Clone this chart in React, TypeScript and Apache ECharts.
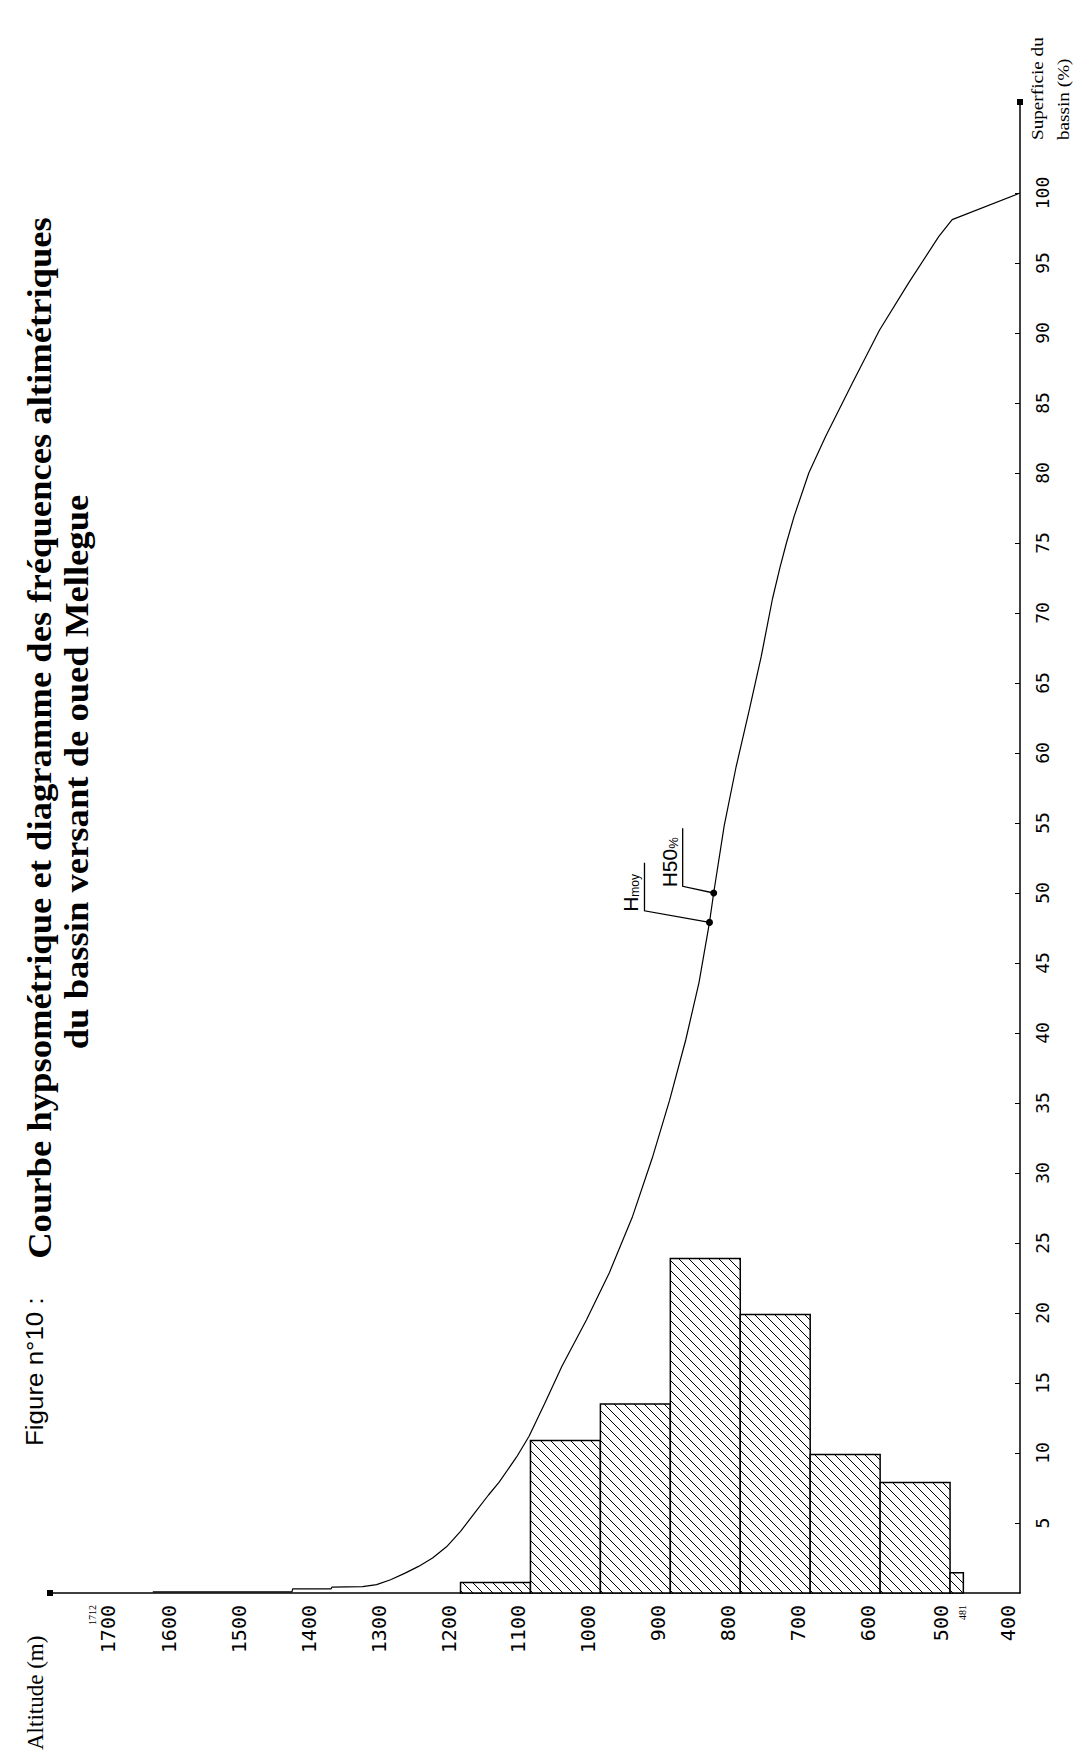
import React, { useEffect, useRef } from "react";
import * as echarts from "echarts";

// ---- Data ----
const ALT_TICKS = [1700, 1600, 1500, 1400, 1300, 1200, 1100, 1000, 900, 800, 700, 600, 500, 400];
const ALT_EXTREMES = [1712, 481];
const PCT_TICKS = [5, 10, 15, 20, 25, 30, 35, 40, 45, 50, 55, 60, 65, 70, 75, 80, 85, 90, 95, 100];

const BIN_HIGH = [1200, 1100, 1000, 900, 800, 700, 600, 500];
const BIN_LOW = [1100, 1000, 900, 800, 700, 600, 500, 481];
const BIN_FREQ = [0.75, 10.9, 13.5, 23.9, 19.9, 9.9, 7.9, 1.45];

const CURVE_ALT = [1640, 1441, 1440, 1385, 1384, 1340, 1320, 1300, 1280, 1260, 1240, 1220, 1200, 1180, 1160, 1145, 1120, 1102, 1080, 1055, 1020, 987, 954, 925, 901, 878, 859, 844, 838, 823, 806, 787, 770, 754, 743, 734, 723, 702, 678, 640, 601, 559, 516, 497, 400];
const CURVE_PCT = [0.08, 0.08, 0.3, 0.3, 0.42, 0.45, 0.6, 0.95, 1.4, 1.9, 2.5, 3.3, 4.4, 5.7, 7.0, 7.9, 9.7, 11.2, 13.5, 16.2, 19.5, 22.9, 26.9, 31.2, 35.2, 39.5, 43.6, 47.9, 50.0, 54.8, 59.0, 63.1, 66.9, 71.0, 73.3, 75.0, 76.9, 80.0, 82.6, 86.4, 90.2, 93.6, 96.9, 98.1, 100];

const MARK_NAMES = ["Hmoy", "H50%"];
const MARK_ALT = [844, 838];
const MARK_PCT = [47.9, 50.0];

const TITLE_PREFIX = "Figure n°10 :";
const TITLE_LINE1 = "Courbe hypsométrique et diagramme des fréquences altimétriques";
const TITLE_LINE2 = "du bassin versant de oued Mellegue";
const X_NAME = "Altitude (m)";
const Y_NAME_1 = "Superficie du";
const Y_NAME_2 = "bassin (%)";

export default function App() {
  const ref = useRef<HTMLDivElement>(null);

  useEffect(() => {
    if (!ref.current) return;
    const chart = echarts.init(ref.current, null, { renderer: "svg" });

    const barData = BIN_LOW.map((lo, i) => [lo, BIN_HIGH[i], BIN_FREQ[i]]);
    const curveData = CURVE_ALT.map((a, i) => [a, CURVE_PCT[i]]);
    const markData = MARK_ALT.map((a, i) => [a, MARK_PCT[i], MARK_NAMES[i]]);

    const HATCH = 10;
    const renderBar = (params: any, api: any) => {
      const lo = api.value(0);
      const hi = api.value(1);
      const f = api.value(2);
      const pA = api.coord([hi, 0]);
      const pB = api.coord([lo, f]);
      const x0 = Math.min(pA[0], pB[0]);
      const x1 = Math.max(pA[0], pB[0]);
      const y0 = Math.min(pA[1], pB[1]);
      const y1 = Math.max(pA[1], pB[1]);
      const children: any[] = [
        { type: "rect", shape: { x: x0, y: y0, width: x1 - x0, height: y1 - y0 }, style: { fill: "#fff", stroke: "none" } },
      ];
      const cMin = y0 - x1;
      const cMax = y1 - x0;
      for (let c = Math.ceil(cMin / HATCH) * HATCH; c <= cMax; c += HATCH) {
        const xa = Math.max(x0, y0 - c);
        const xb = Math.min(x1, y1 - c);
        if (xb > xa + 0.5) {
          children.push({
            type: "line",
            shape: { x1: xa, y1: xa + c, x2: xb, y2: xb + c },
            style: { stroke: "#000", lineWidth: 1 },
          });
        }
      }
      children.push({
        type: "rect",
        shape: { x: x0, y: y0, width: x1 - x0, height: y1 - y0 },
        style: { fill: "none", stroke: "#000", lineWidth: 1.5 },
      });
      return { type: "group", children };
    };

    const LEADERS = [
      { dx: -65, dy: -11.6, up: 48 },
      { dx: -31, dy: -6.7, up: 58 },
    ];
    const renderMark = (params: any, api: any) => {
      const i = params.dataIndex;
      const p = api.coord([api.value(0), api.value(1)]);
      const L = LEADERS[i];
      const cx = p[0] + L.dx;
      const cy = p[1] + L.dy;
      const name = MARK_NAMES[i];
      const text = name === "Hmoy" ? "{h|H}{s|moy}" : "{h|H50}{p|%}";
      return {
        type: "group",
        children: [
          {
            type: "polyline",
            shape: { points: [[p[0], p[1]], [cx, cy], [cx, cy - L.up]] },
            style: { stroke: "#000", lineWidth: 1.3, fill: "none" },
          },
          { type: "circle", shape: { cx: p[0], cy: p[1], r: 3.5 }, style: { fill: "#000" } },
          {
            type: "text",
            x: cx - 3,
            y: cy + 1,
            rotation: Math.PI / 2,
            style: {
              text,
              textAlign: "left",
              textVerticalAlign: "bottom",
              fill: "#000",
              rich: {
                h: { fontSize: 21, fontFamily: "Liberation Sans", lineHeight: 20, verticalAlign: "bottom" },
                s: { fontSize: 12, fontFamily: "Liberation Sans", lineHeight: 12, verticalAlign: "bottom" },
                p: { fontSize: 13, fontFamily: "Liberation Sans", lineHeight: 20, verticalAlign: "bottom" },
              },
            },
          },
        ],
      };
    };

    const MONO = "DejaVu Sans Mono";
    const xLabel = (v: number) => {
      if (v === 1700) return `{c|${v}}`;
      if (v === 500) return `{d|${v}}`;
      return String(v);
    };
    const xMinor = (v: number) => (v === 1712 ? `{s1|${v}}` : `{s2|${v}}`);

    const baseX = {
      type: "value",
      inverse: true,
      min: 400,
      max: 1787,
      position: "bottom",
      gridIndex: 0,
      axisTick: { show: false },
      splitLine: { show: false },
    };

    const option: any = {
      animation: false,
      backgroundColor: "#fff",
      grid: { left: 50, right: 70, top: 102, bottom: 162, outerBoundsMode: "none", containLabel: false },
      xAxis: [
        {
          ...baseX,
          axisLine: {
            show: true,
            onZero: false,
            lineStyle: { color: "#000", width: 1.5 },
            symbol: ["rect", "none"],
            symbolSize: [6, 6],
          },
          axisLabel: {
            customValues: ALT_TICKS,
            hideOverlap: false,
            rotate: 90,
            align: "right",
            verticalAlign: "bottom",
            lineHeight: 24,
            margin: 12,
            fontFamily: MONO,
            fontSize: 20,
            color: "#000",
            formatter: xLabel,
            rich: {
              c: { fontSize: 20, lineHeight: 6, fontFamily: MONO, color: "#000" },
              d: { fontSize: 20, lineHeight: 18, fontFamily: MONO, color: "#000" },
            },
          },
        },
        {
          ...baseX,
          axisLine: { show: false, onZero: false },
          axisLabel: {
            customValues: ALT_EXTREMES,
            hideOverlap: false,
            rotate: 90,
            align: "right",
            verticalAlign: "bottom",
            margin: 12,
            fontFamily: "Liberation Serif",
            fontSize: 10,
            color: "#000",
            formatter: xMinor,
            rich: {
              s1: { fontSize: 10, lineHeight: 20, fontFamily: "Liberation Serif", color: "#000" },
              s2: { fontSize: 10, lineHeight: 2, fontFamily: "Liberation Serif", color: "#000" },
            },
          },
        },
      ],
      yAxis: {
        type: "value",
        position: "right",
        min: 0,
        max: 106.5,
        axisLine: {
          show: true,
          onZero: false,
          lineStyle: { color: "#000", width: 1.5 },
          symbol: ["none", "rect"],
          symbolSize: [6, 6],
        },
        axisTick: { show: true, inside: true, length: 5, customValues: PCT_TICKS, lineStyle: { color: "#000" } },
        splitLine: { show: false },
        axisLabel: {
          customValues: PCT_TICKS,
          hideOverlap: false,
          rotate: 90,
          align: "center",
          verticalAlign: "top",
          margin: 13,
          fontFamily: MONO,
          fontSize: 18,
          color: "#000",
        },
      },
      series: [
        {
          type: "custom",
          name: "Fréquences altimétriques",
          renderItem: renderBar,
          data: barData,
          xAxisIndex: 0,
          encode: { x: [0, 1], y: 2 },
          z: 2,
          silent: true,
        },
        {
          type: "line",
          name: "Courbe hypsométrique",
          data: curveData,
          xAxisIndex: 0,
          showSymbol: false,
          symbol: "none",
          lineStyle: { color: "#000", width: 1.2 },
          z: 3,
          silent: true,
        },
        {
          type: "custom",
          name: "Repères",
          renderItem: renderMark,
          data: markData,
          xAxisIndex: 0,
          encode: { x: 0, y: 1 },
          z: 4,
          silent: true,
        },
      ],
      graphic: [
        {
          type: "text",
          x: 34,
          y: 1446,
          rotation: Math.PI / 2,
          scaleX: 1.08,
          style: { text: TITLE_PREFIX, font: '24px "Liberation Sans"', fill: "#000", textAlign: "left", textVerticalAlign: "middle" },
        },
        {
          type: "text",
          x: 40,
          y: 738,
          rotation: Math.PI / 2,
          scaleX: 1.11,
          style: { text: TITLE_LINE1, font: 'bold 33px "Liberation Serif"', fill: "#000", textAlign: "center", textVerticalAlign: "middle" },
        },
        {
          type: "text",
          x: 77,
          y: 772,
          rotation: Math.PI / 2,
          scaleX: 1.11,
          style: { text: TITLE_LINE2, font: 'bold 33px "Liberation Serif"', fill: "#000", textAlign: "center", textVerticalAlign: "middle" },
        },
        {
          type: "text",
          x: 35,
          y: 1750,
          rotation: Math.PI / 2,
          style: { text: X_NAME, font: '23px "Liberation Serif"', fill: "#000", textAlign: "left", textVerticalAlign: "middle" },
        },
        {
          type: "text",
          x: 1038,
          y: 140,
          rotation: Math.PI / 2,
          scaleX: 1.2,
          style: { text: Y_NAME_1, font: '16px "Liberation Serif"', fill: "#000", textAlign: "left", textVerticalAlign: "middle" },
        },
        {
          type: "text",
          x: 1064,
          y: 140,
          rotation: Math.PI / 2,
          scaleX: 1.2,
          style: { text: Y_NAME_2, font: '16px "Liberation Serif"', fill: "#000", textAlign: "left", textVerticalAlign: "middle" },
        },
      ],
    };

    chart.setOption(option);
    return () => chart.dispose();
  }, []);

  return (
    <div
      ref={ref}
      style={{ position: "fixed", left: 0, top: 0, width: 1090, height: 1755, background: "#fff" }}
    />
  );
}
